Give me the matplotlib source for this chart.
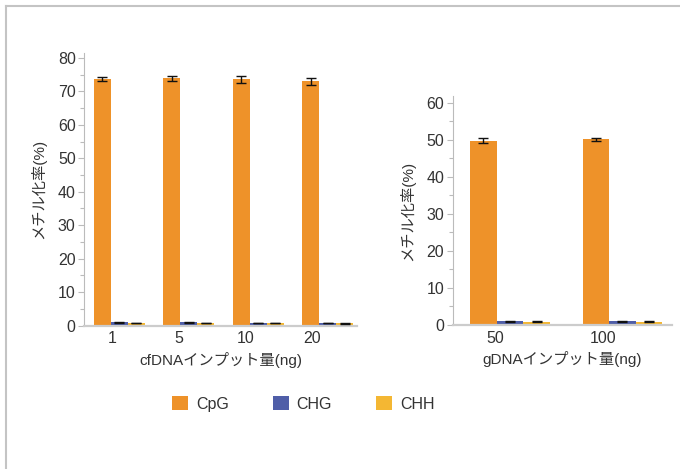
import numpy as np
import matplotlib.pyplot as plt
from matplotlib.lines import Line2D
from matplotlib.patches import Patch

plt.rcParams['font.family'] = ['Liberation Sans', 'Noto Sans CJK JP', 'DejaVu Sans']

# data
series = ['CpG', 'CHG', 'CHH']
colors = ['#EE9229', '#4F5EA8', '#F4B733']

cf_labels = ['1', '5', '10', '20']
cf_cpg = [73.7, 73.9, 73.6, 73.0]
cf_cpg_err = [0.5, 0.7, 1.0, 1.0]
cf_chg = [1.0, 1.0, 0.8, 0.8]
cf_chg_err = [0.15, 0.15, 0.1, 0.1]
cf_chh = [0.8, 0.8, 0.8, 0.7]
cf_chh_err = [0.1, 0.1, 0.1, 0.1]

g_labels = ['50', '100']
g_cpg = [49.8, 50.1]
g_cpg_err = [0.6, 0.3]
g_chg = [1.0, 1.0]
g_chg_err = [0.1, 0.1]
g_chh = [0.9, 0.9]
g_chh_err = [0.1, 0.1]

txt = '#333333'
fig = plt.figure(figsize=(6.8, 4.69), dpi=100)


def draw(ax, labels, vals, errs, width, ymax, xlim, lab_off, xlabel):
    x = np.arange(len(labels))
    for k, (v, e, c) in enumerate(zip(vals, errs, colors)):
        ax.bar(x + (k - 1) * width, v, width, color=c, zorder=2)
        ax.errorbar(x + (k - 1) * width, v, yerr=e, fmt='none', ecolor='#111111',
                    elinewidth=1, capsize=3.5, capthick=1, zorder=3)
    ax.set_xlim(*xlim)
    ax.set_ylim(0, ymax)
    # labels sit a bit left of the group centres in the original
    ax.set_xticks(x * 0.96 + lab_off)
    ax.set_xticklabels(labels)
    ax.set_yticks(np.arange(0, ymax, 10))
    ax.set_yticks(np.arange(5, ymax, 10), minor=True)
    ax.tick_params(axis='x', length=0, labelsize=11.5, labelcolor=txt, pad=4)
    ax.tick_params(axis='y', which='major', length=4, color='#bbbbbb', width=0.8,
                   labelsize=11.5, labelcolor=txt, pad=2)
    ax.tick_params(axis='y', which='minor', length=3, color='#bbbbbb', width=0.8)
    for s in ['top', 'right']:
        ax.spines[s].set_visible(False)
    ax.spines['left'].set_color('#bbbbbb')
    ax.spines['left'].set_linewidth(0.8)
    ax.spines['bottom'].set_color('#cccccc')
    ax.spines['bottom'].set_linewidth(1.6)
    ax.set_ylabel('メチル化率(%)', fontsize=11, color=txt, labelpad=8)
    ax.set_xlabel(xlabel, fontsize=11, color=txt, labelpad=4)


ax1 = fig.add_axes([0.1235, 0.3055, 0.4015, 0.582])
draw(ax1, cf_labels, [cf_cpg, cf_chg, cf_chh], [cf_cpg_err, cf_chg_err, cf_chh_err],
     0.245, 81.5, (-0.51, 3.42), -0.11, 'cfDNAインプット量(ng)')

ax2 = fig.add_axes([0.6657, 0.307, 0.322, 0.488])
draw(ax2, g_labels, [g_cpg, g_chg, g_chh], [g_cpg_err, g_chg_err, g_chh_err],
     0.237, 61.8, (-0.51, 1.437), -0.13, 'gDNAインプット量(ng)')

handles = [Patch(facecolor=c, edgecolor='none') for c in colors]
fig.legend(handles, series, loc='center', bbox_to_anchor=(0.446, 0.139), ncol=3,
           frameon=False, fontsize=11.5, handlelength=1.0, handleheight=1.0,
           columnspacing=2.75, handletextpad=0.5, labelcolor=txt)

# outer frame lines (top and left)
fig.add_artist(Line2D([0.0088, 1], [0.987, 0.987], color='#c4c4c4', lw=1.5))
fig.add_artist(Line2D([0.0088, 0.0088], [0, 0.987], color='#c4c4c4', lw=1.5))

fig.savefig('out.png', dpi=100)
